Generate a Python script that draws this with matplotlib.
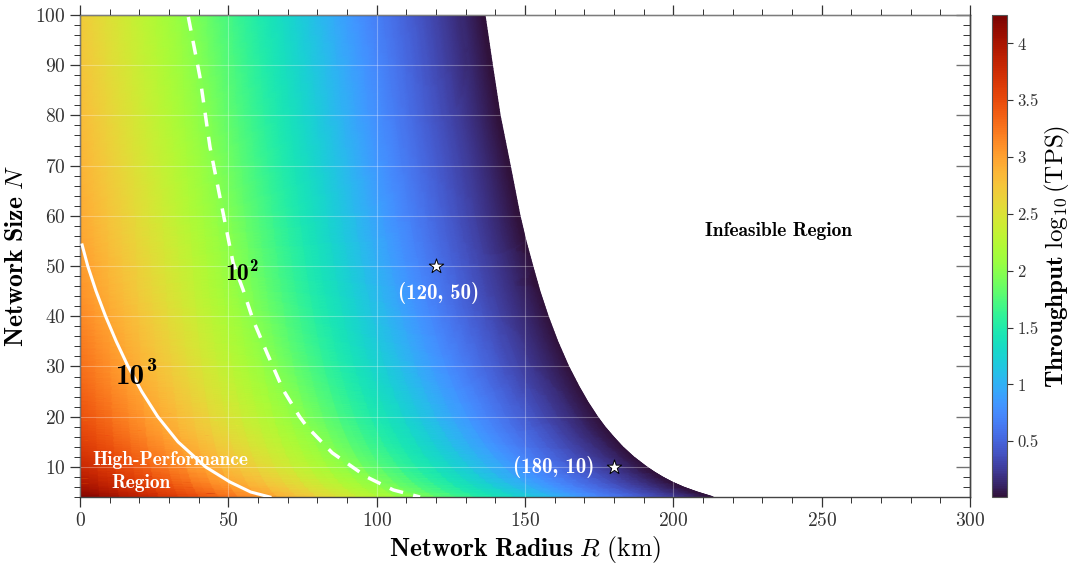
import numpy as np
import matplotlib
matplotlib.use("Agg")
import matplotlib.pyplot as plt
import matplotlib.tri as mtri
from matplotlib.ticker import MultipleLocator, FormatStrFormatter

plt.rcParams['font.family'] = 'serif'
plt.rcParams['font.serif'] = ['cmr10']
plt.rcParams['mathtext.fontset'] = 'cm'
plt.rcParams['axes.formatter.use_mathtext'] = True

# network sizes (rows) and the infeasibility boundary R_max(N)
N_rows = np.array([4, 5, 6, 7, 8, 9, 10, 12, 14, 16, 18, 20, 23, 26, 30,
                   35, 40, 45, 50, 55, 60, 70, 80, 90, 100])
R_bound = np.array([213.5, 208.0, 203.3, 199.5, 196.3, 193.5, 191.0, 186.6,
                    182.9, 179.8, 176.9, 174.4, 171.1, 168.2, 164.7, 161.0,
                    157.8, 155.0, 152.6, 150.3, 148.3, 145.0, 141.6, 139.0, 136.5])

# log10(TPS) read along each row at fractions of R_max
frac = np.array([0.0, 0.25, 0.5, 0.75, 0.9, 1.0])
log_tps = np.array([
    [4.25, 3.20, 2.12, 1.04, 0.40, 0.01],
    [4.14, 3.13, 2.06, 1.00, 0.39, 0.01],
    [4.05, 3.06, 2.02, 0.98, 0.38, 0.01],
    [3.98, 3.00, 1.99, 0.96, 0.37, 0.01],
    [3.92, 2.95, 1.96, 0.94, 0.37, 0.01],
    [3.86, 2.91, 1.93, 0.93, 0.36, 0.01],
    [3.81, 2.87, 1.90, 0.92, 0.36, 0.01],
    [3.73, 2.81, 1.86, 0.90, 0.35, 0.01],
    [3.65, 2.75, 1.82, 0.88, 0.34, 0.01],
    [3.58, 2.70, 1.79, 0.86, 0.33, 0.01],
    [3.52, 2.65, 1.76, 0.85, 0.33, 0.01],
    [3.47, 2.62, 1.73, 0.83, 0.32, 0.01],
    [3.41, 2.57, 1.70, 0.82, 0.32, 0.01],
    [3.35, 2.53, 1.67, 0.80, 0.31, 0.01],
    [3.29, 2.48, 1.63, 0.78, 0.30, 0.01],
    [3.22, 2.43, 1.59, 0.76, 0.30, 0.01],
    [3.15, 2.38, 1.56, 0.74, 0.29, 0.01],
    [3.09, 2.33, 1.53, 0.73, 0.28, 0.01],
    [3.04, 2.29, 1.50, 0.71, 0.28, 0.01],
    [2.99, 2.26, 1.48, 0.70, 0.27, 0.01],
    [2.95, 2.22, 1.46, 0.69, 0.27, 0.01],
    [2.88, 2.17, 1.42, 0.67, 0.26, 0.01],
    [2.82, 2.12, 1.39, 0.66, 0.26, 0.01],
    [2.76, 2.08, 1.36, 0.65, 0.25, 0.01],
    [2.71, 2.04, 1.33, 0.63, 0.25, 0.01],
])

# iso-throughput lines (10^3 solid, 10^2 dashed)
c1000_R = [0.7, 2.6, 5.4, 8.6, 12.2, 16.2, 20.8, 26.2, 33.0, 42.3, 50.5, 57.5, 64.0]
c1000_N = [54.2, 50.0, 45.0, 40.0, 35.0, 30.0, 25.0, 20.0, 15.0, 10.0, 7.0, 5.0, 4.0]
c100_R = [36.5, 40.4, 43.8, 47.8, 51.6, 55.0, 58.3, 63.0, 68.5, 74.0, 76.5, 85.0, 96.6, 105.6, 114.6]
c100_N = [99.6, 87.7, 73.7, 61.8, 50.6, 45.2, 39.3, 32.7, 25.3, 20.0, 18.0, 12.8, 8.0, 5.4, 4.0]

# highlighted operating points
pts_R = [120, 180]
pts_N = [50, 10]

fig = plt.figure(figsize=(10.73, 5.63), dpi=100)
ax = fig.add_axes([0.0746, 0.1172, 0.8295, 0.8562])
cax = fig.add_axes([0.9245, 0.1172, 0.014, 0.8562])

# curvilinear mesh bounded by R_max(N), split into triangles and refined smoothly
X = frac[None, :] * R_bound[:, None]
Y = N_rows[:, None] * np.ones_like(frac)[None, :]
nr, nc = log_tps.shape
tris = []
for i in range(nr - 1):
    for j in range(nc - 1):
        a = i * nc + j
        tris.append([a, a + 1, a + nc + 1])
        tris.append([a, a + nc + 1, a + nc])
tri = mtri.Triangulation(X.ravel(), Y.ravel(), np.array(tris))
z = log_tps.ravel()
interp = mtri.CubicTriInterpolator(tri, z, kind='geom')
fine_tri, fine_z = mtri.UniformTriRefiner(tri).refine_field(z, triinterpolator=interp, subdiv=4)
mesh = ax.tripcolor(fine_tri, fine_z, shading='gouraud', cmap='turbo',
                    vmin=0.01, vmax=4.25, zorder=1, rasterized=True)

ax.plot(c1000_R, c1000_N, color='white', lw=2.2, zorder=4)
ax.plot(c100_R, c100_N, color='white', lw=2.5, ls=(0, (4, 3)), zorder=4)

ax.scatter(pts_R, pts_N, marker='*', s=120, facecolor='white',
           edgecolor='black', linewidth=0.7, zorder=6)
ax.text(121, 44.6, '(120, 50)', color='white', fontsize=15, fontname='cmb10',
        ha='center', va='center', zorder=6)
ax.text(173.5, 10, '(180, 10)', color='white', fontsize=15, fontname='cmb10',
        ha='right', va='center', zorder=6)

# contour level labels: bold "10" with a bold superscript
ax.text(48.9, 48.4, '10', fontsize=17, fontname='cmb10', ha='left', va='center', zorder=5)
ax.text(57.0, 49.9, '2', fontsize=12, fontname='cmb10', ha='left', va='center', zorder=5)
ax.text(11.8, 27.9, '10', fontsize=21, fontname='cmb10', ha='left', va='center', zorder=5)
ax.text(22.4, 30.1, '3', fontsize=14.5, fontname='cmb10', ha='left', va='center', zorder=5)

ax.text(30.3, 11.3, 'High-Performance', color='white', fontsize=14,
        fontname='cmb10', ha='center', va='center', zorder=5)
ax.text(20.5, 6.7, 'Region', color='white', fontsize=14,
        fontname='cmb10', ha='center', va='center', zorder=5)
ax.text(235.5, 57, 'Infeasible Region', color='black', fontsize=14,
        fontname='cmb10', ha='center', va='center', zorder=5)

ax.set_xlim(0, 300)
ax.set_ylim(4, 100)
ax.xaxis.set_major_locator(MultipleLocator(50))
ax.xaxis.set_minor_locator(MultipleLocator(10))
ax.yaxis.set_major_locator(MultipleLocator(10))
ax.yaxis.set_minor_locator(MultipleLocator(2))
ax.grid(True, which='major', color='white', alpha=0.3, linewidth=0.8, zorder=3)
ax.set_axisbelow(False)

ax.tick_params(axis='x', which='both', top=True, bottom=True, direction='out',
               labelsize=14, colors='#333333')
ax.tick_params(axis='y', which='both', left=True, right=False, direction='out',
               labelsize=14, colors='#333333')
ax.tick_params(which='major', length=7, width=0.9)
ax.tick_params(which='minor', length=4, width=0.7)
sec = ax.secondary_yaxis('right')
sec.yaxis.set_major_locator(MultipleLocator(10))
sec.yaxis.set_minor_locator(MultipleLocator(2))
sec.tick_params(which='both', direction='in', labelright=False, colors='#333333')
sec.tick_params(which='major', length=10, width=0.9)
sec.tick_params(which='minor', length=5, width=0.7)
for s in list(ax.spines.values()) + [sec.spines['right']]:
    s.set_color('#444444')
    s.set_linewidth(1.0)

ax.set_xlabel(r'$\mathbf{Network\ Radius}\ R\ \mathrm{(km)}$', fontsize=18.5, labelpad=3)
ax.set_ylabel(r'$\mathbf{Network\ Size}\ N$', fontsize=18.5, labelpad=5)

cb = fig.colorbar(mesh, cax=cax)
cb.set_ticks([0.5, 1, 1.5, 2, 2.5, 3, 3.5, 4])
cb.ax.yaxis.set_major_formatter(FormatStrFormatter('%g'))
cb.ax.tick_params(labelsize=12, length=4, width=0.8, colors='#333333')
cb.outline.set_edgecolor('#555555')
cb.set_label(r'$\mathbf{Throughput}\ \log_{10}(\mathrm{TPS})$', fontsize=18, labelpad=3)

fig.savefig('out.png', dpi=100)
